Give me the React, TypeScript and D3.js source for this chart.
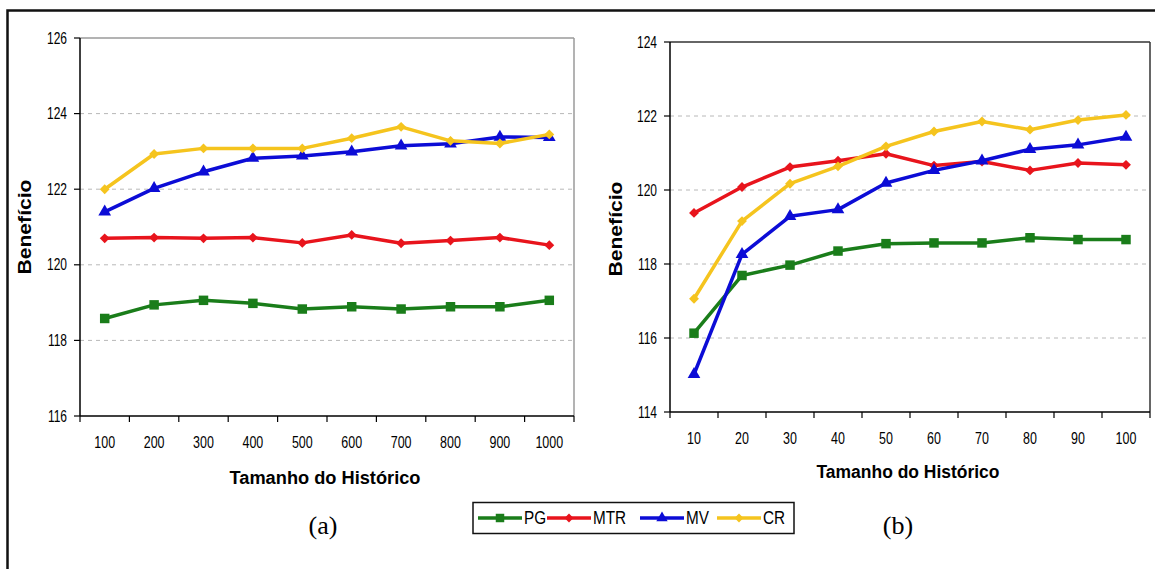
import React from 'react';
import * as d3 from 'd3';

const categoriesA = ['100', '200', '300', '400', '500', '600', '700', '800', '900', '1000'];
const categoriesB = ['10', '20', '30', '40', '50', '60', '70', '80', '90', '100'];

const pgA = [118.58, 118.94, 119.06, 118.98, 118.83, 118.89, 118.83, 118.89, 118.89, 119.06];
const mtrA = [120.7, 120.72, 120.7, 120.72, 120.58, 120.79, 120.57, 120.64, 120.72, 120.52];
const mvA = [121.4, 122.02, 122.46, 122.82, 122.88, 122.99, 123.15, 123.2, 123.38, 123.37];
const crA = [122.0, 122.93, 123.08, 123.08, 123.08, 123.35, 123.65, 123.28, 123.21, 123.45];

const pgB = [116.13, 117.69, 117.97, 118.35, 118.55, 118.57, 118.57, 118.71, 118.66, 118.66];
const mtrB = [119.38, 120.08, 120.62, 120.79, 120.98, 120.66, 120.77, 120.53, 120.73, 120.68];
const mvB = [115.02, 118.26, 119.29, 119.47, 120.19, 120.53, 120.79, 121.1, 121.22, 121.43];
const crB = [117.06, 119.16, 120.17, 120.64, 121.18, 121.58, 121.85, 121.63, 121.89, 122.03];

const ticksA = [116, 118, 120, 122, 124, 126];
const ticksB = [114, 116, 118, 120, 122, 124];

const seriesNames = ['PG', 'MTR', 'MV', 'CR'];
const seriesColors = ['#1a7d1a', '#e8141c', '#0c0cd6', '#f5c41e'];
const seriesSymbols = [d3.symbolSquare, d3.symbolDiamond2, d3.symbolTriangle, d3.symbolDiamond2];
const symbolSizes = [90, 62, 70, 62];

const xTitle = 'Tamanho do Histórico';
const yTitle = 'Benefício';

const SANS = '"Liberation Sans", Arial, sans-serif';

type ChartProps = {
  x0: number; x1: number; y0: number; y1: number;
  categories: string[];
  series: number[][];
  ticks: number[];
  borderColor: string;
  xTitleX: number; xTitleY: number; xTitleW: number;
  yTitleX: number; yTitleY: number;
  tickLabelY: number;
};

function Chart(p: ChartProps) {
  const x = d3.scaleBand<string>().domain(p.categories).range([p.x0, p.x1]).padding(0);
  const y = d3.scaleLinear().domain([p.ticks[0], p.ticks[p.ticks.length - 1]]).range([p.y1, p.y0]);
  const cx = (i: number) => (x(p.categories[i]) as number) + x.bandwidth() / 2;
  const line = d3.line<number>().x((_, i) => cx(i)).y((v) => y(v));
  const bounds = p.categories.map((c) => x(c) as number).concat([p.x1]);
  return (
    <g>
      {p.ticks.slice(1, -1).map((t) => (
        <line key={'g' + t} x1={p.x0} x2={p.x1} y1={y(t)} y2={y(t)} stroke="#b8b8b8" strokeWidth={1} strokeDasharray="4,4" />
      ))}
      <line x1={p.x0} x2={p.x1} y1={p.y0} y2={p.y0} stroke={p.borderColor} strokeWidth={1.5} />
      <line x1={p.x1} x2={p.x1} y1={p.y0} y2={p.y1} stroke={p.borderColor} strokeWidth={1.5} />
      <line x1={p.x0} x2={p.x0} y1={p.y0} y2={p.y1} stroke="#000" strokeWidth={1.5} />
      <line x1={p.x0} x2={p.x1} y1={p.y1} y2={p.y1} stroke="#000" strokeWidth={1.5} />
      {p.ticks.map((t) => (
        <g key={'t' + t}>
          <line x1={p.x0 - 6} x2={p.x0} y1={y(t)} y2={y(t)} stroke="#000" strokeWidth={1.2} />
          <text transform={`translate(${p.x0 - 13},${y(t)}) scale(0.75,1)`} dy="0.35em" textAnchor="end" fontFamily={SANS} fontSize={16} fill="#000">{t}</text>
        </g>
      ))}
      {bounds.map((b, i) => (
        <line key={'b' + i} x1={b} x2={b} y1={p.y1} y2={p.y1 + 6} stroke="#000" strokeWidth={1.2} />
      ))}
      {p.categories.map((c, i) => (
        <text key={'c' + c} transform={`translate(${cx(i)},${p.tickLabelY}) scale(0.78,1)`} dy="0.35em" textAnchor="middle" fontFamily={SANS} fontSize={16} fill="#000">{c}</text>
      ))}
      <text x={p.xTitleX} y={p.xTitleY} dy="0.35em" textAnchor="middle" fontFamily={SANS} fontWeight="bold" fontSize={18} textLength={p.xTitleW} lengthAdjust="spacingAndGlyphs">{xTitle}</text>
      <text transform={`translate(${p.yTitleX},${p.yTitleY}) rotate(-90)`} dy="0.35em" textAnchor="middle" fontFamily={SANS} fontWeight="bold" fontSize={18} textLength={95} lengthAdjust="spacingAndGlyphs">{yTitle}</text>
      {p.series.map((s, si) => (
        <g key={'s' + si}>
          <path d={line(s) || ''} fill="none" stroke={seriesColors[si]} strokeWidth={3.5} strokeLinejoin="round" />
          {s.map((v, i) => (
            <path key={i} transform={`translate(${cx(i)},${y(v)})`}
              d={d3.symbol().type(seriesSymbols[si]).size(symbolSizes[si])() || ''} fill={seriesColors[si]} />
          ))}
        </g>
      ))}
    </g>
  );
}

const legendX = [478, 547, 640, 717];

export default function App() {
  return (
    <div style={{ position: 'absolute', left: 0, top: 0 }}>
      <svg width={1155} height={569} style={{ display: 'block', background: '#fff' }}>
        <path d="M7.5,575 L7.5,10.5 L1160,10.5" fill="none" stroke="#111" strokeWidth={2.5} />
        <Chart x0={80} x1={574} y0={38} y1={416} categories={categoriesA} series={[pgA, mtrA, mvA, crA]} ticks={ticksA}
          borderColor="#9a9a9a" xTitleX={325} xTitleY={478} xTitleW={191} yTitleX={25} yTitleY={227} tickLabelY={442} />
        <Chart x0={670} x1={1150} y0={42} y1={412} categories={categoriesB} series={[pgB, mtrB, mvB, crB]} ticks={ticksB}
          borderColor="#333" xTitleX={908} xTitleY={472} xTitleW={183} yTitleX={616} yTitleY={229} tickLabelY={438} />
        <rect x={473} y={502.5} width={321} height={31} fill="#fff" stroke="#111" strokeWidth={1.5} />
        {seriesNames.map((n, i) => (
          <g key={n}>
            <line x1={legendX[i]} x2={legendX[i] + 44} y1={518} y2={518} stroke={seriesColors[i]} strokeWidth={3.5} />
            <path transform={`translate(${legendX[i] + 22},518)`} d={d3.symbol().type(seriesSymbols[i]).size(symbolSizes[i] * 0.8)() || ''} fill={seriesColors[i]} />
            <text transform={`translate(${legendX[i] + 46},518) scale(0.85,1)`} dy="0.35em" fontFamily={SANS} fontSize={18} fill="#000">{n}</text>
          </g>
        ))}
        <text x={323} y={525} dy="0.35em" textAnchor="middle" fontFamily='"Liberation Serif", "Times New Roman", serif' fontSize={26}>(a)</text>
        <text x={898} y={525} dy="0.35em" textAnchor="middle" fontFamily='"Liberation Serif", "Times New Roman", serif' fontSize={26}>(b)</text>
      </svg>
    </div>
  );
}
